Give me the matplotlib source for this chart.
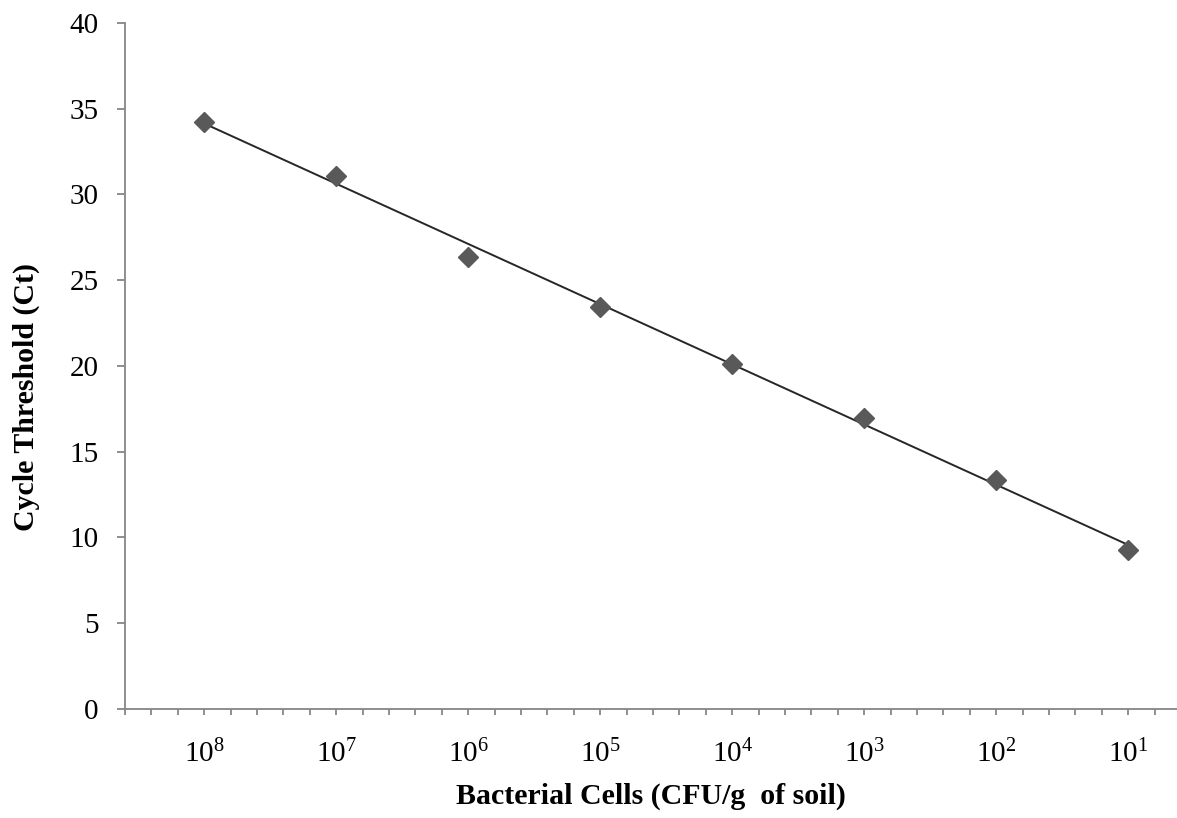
import matplotlib
matplotlib.use("Agg")
import matplotlib.pyplot as plt
import numpy as np
from matplotlib.ticker import MultipleLocator, FixedLocator

#fonts - Times-like
plt.rcParams['font.family'] = ['Liberation Serif', 'DejaVu Serif']
plt.rcParams['mathtext.fontset'] = 'custom'
plt.rcParams['mathtext.rm'] = 'Liberation Serif'
plt.rcParams['mathtext.it'] = 'Liberation Serif:italic'
plt.rcParams['mathtext.bf'] = 'Liberation Serif:bold'

#data (x = log10 of CFU/g)
log_cells = [8, 7, 6, 5, 4, 3, 2, 1]
ct_values = [34.23, 31.08, 26.36, 23.44, 20.12, 16.97, 13.35, 9.27]
x_labels = [r'$\mathregular{10^{%d}}$' % e for e in log_cells]

#linear trend line
slope, icpt = np.polyfit(log_cells, ct_values, 1)
x_fit = np.array([max(log_cells), min(log_cells)])
y_fit = slope*x_fit + icpt

axis_grey = '#868686'

fig = plt.figure(figsize=(11.77, 8.18), dpi=100)
ax = fig.add_axes([0.1062, 0.1333, 0.8938, 0.8386])

ax.plot(x_fit, y_fit, color='#262626', linewidth=1.4, zorder=2)
ax.plot(log_cells, ct_values, linestyle='none', marker='D', markersize=10.5,
        color='#595959', markeredgecolor='#595959', zorder=3)

ax.set_xlim(8.6, 0.63)
ax.set_ylim(0, 40)

ax.xaxis.set_major_locator(FixedLocator(log_cells))
ax.set_xticks(log_cells)
ax.set_xticklabels(x_labels)
ax.xaxis.set_minor_locator(MultipleLocator(0.2))
ax.yaxis.set_major_locator(MultipleLocator(5))

for s in ['top', 'right']:
    ax.spines[s].set_visible(False)
for s in ['left', 'bottom']:
    ax.spines[s].set_color(axis_grey)
    ax.spines[s].set_linewidth(1.3)

ax.tick_params(axis='y', which='major', direction='out', length=6, width=1.3,
               color=axis_grey, labelsize=21, pad=13)
ax.tick_params(axis='x', which='both', direction='out', length=4.5, width=1.3,
               color=axis_grey, labelsize=21, pad=18)

ax.set_xlabel('Bacterial Cells (CFU/g  of soil)', fontsize=21.5, fontweight='bold', labelpad=10)
ax.set_ylabel('Cycle Threshold (Ct)', fontsize=21.5, fontweight='bold')
#label sits a bit below the middle in the original
ax.yaxis.set_label_coords(-0.081, 0.455)

fig.savefig('out.png', dpi=100)
